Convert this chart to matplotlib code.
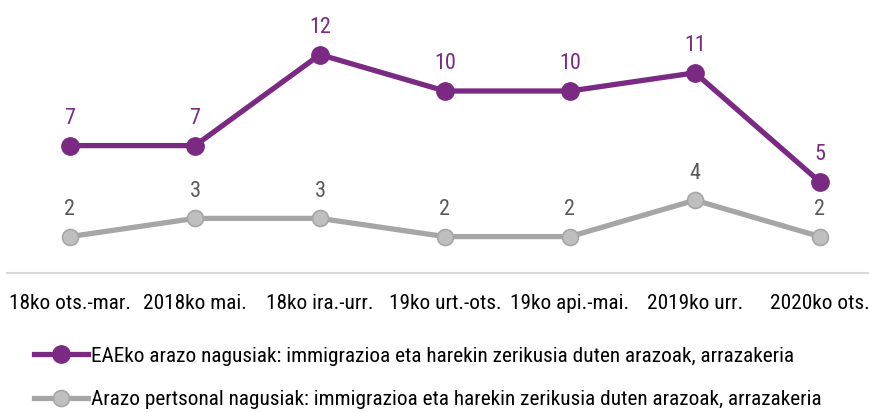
import matplotlib.pyplot as plt
from matplotlib import font_manager

# condensed face, closest to the original
fam = 'DejaVu Sans'
for f in font_manager.fontManager.ttflist:
    if f.fname.endswith('RobotoCondensed-Regular.ttf'):
        fam = f.name
        break
plt.rcParams['font.family'] = [fam, 'DejaVu Sans']

categories = ['18ko ots.-mar.', '2018ko mai.', '18ko ira.-urr.', '19ko urt.-ots.',
              '19ko api.-mai.', '2019ko urr.', '2020ko ots.']
eae = [7, 7, 12, 10, 10, 11, 5]
pertsonal = [2, 3, 3, 2, 2, 4, 2]
label_eae = 'EAEko arazo nagusiak: immigrazioa eta harekin zerikusia duten arazoak, arrazakeria'
label_pert = 'Arazo pertsonal nagusiak: immigrazioa eta harekin zerikusia duten arazoak, arrazakeria'

purple = '#7B2A83'
gray_line = '#A6A6A6'
gray_face = '#BFBFBF'

fig = plt.figure(figsize=(8.7, 4.12), dpi=100)
ax = fig.add_axes([7.5 / 870, 1 - 273 / 412, 862.5 / 870, 273 / 412])

x = range(len(categories))
ax.plot(x, eae, '-o', color=purple, lw=3.8, ms=12.5, mfc=purple, mec=purple,
        label=label_eae, zorder=3)
ax.plot(x, pertsonal, '-o', color=gray_line, lw=3.8, ms=11.5, mfc=gray_face,
        mec=gray_line, mew=1.2, label=label_pert, zorder=2)

for i, v in enumerate(eae):
    ax.annotate(str(v), (i, v), xytext=(0, 12), textcoords='offset points',
                ha='center', va='bottom', fontsize=16, color=purple)
for i, v in enumerate(pertsonal):
    ax.annotate(str(v), (i, v), xytext=(0, 12), textcoords='offset points',
                ha='center', va='bottom', fontsize=16, color='#595959')

ax.set_xlim(-0.5, 6.4)
ax.set_ylim(0, 15)
ax.set_xticks(list(x))
ax.set_xticklabels(categories, fontsize=15.3)
ax.tick_params(axis='x', length=0, pad=15, colors='black')
ax.set_yticks([])
for s in ['top', 'right', 'left']:
    ax.spines[s].set_visible(False)
ax.spines['bottom'].set_color('#D9D9D9')
ax.spines['bottom'].set_linewidth(1.5)

fig.legend(loc='center left', bbox_to_anchor=(34 / 870, 1 - 378 / 412), frameon=False,
           fontsize=15.3, handlelength=2.55, handletextpad=0.15, labelspacing=1.15,
           borderpad=0, borderaxespad=0)

fig.savefig('out.png', dpi=100)
